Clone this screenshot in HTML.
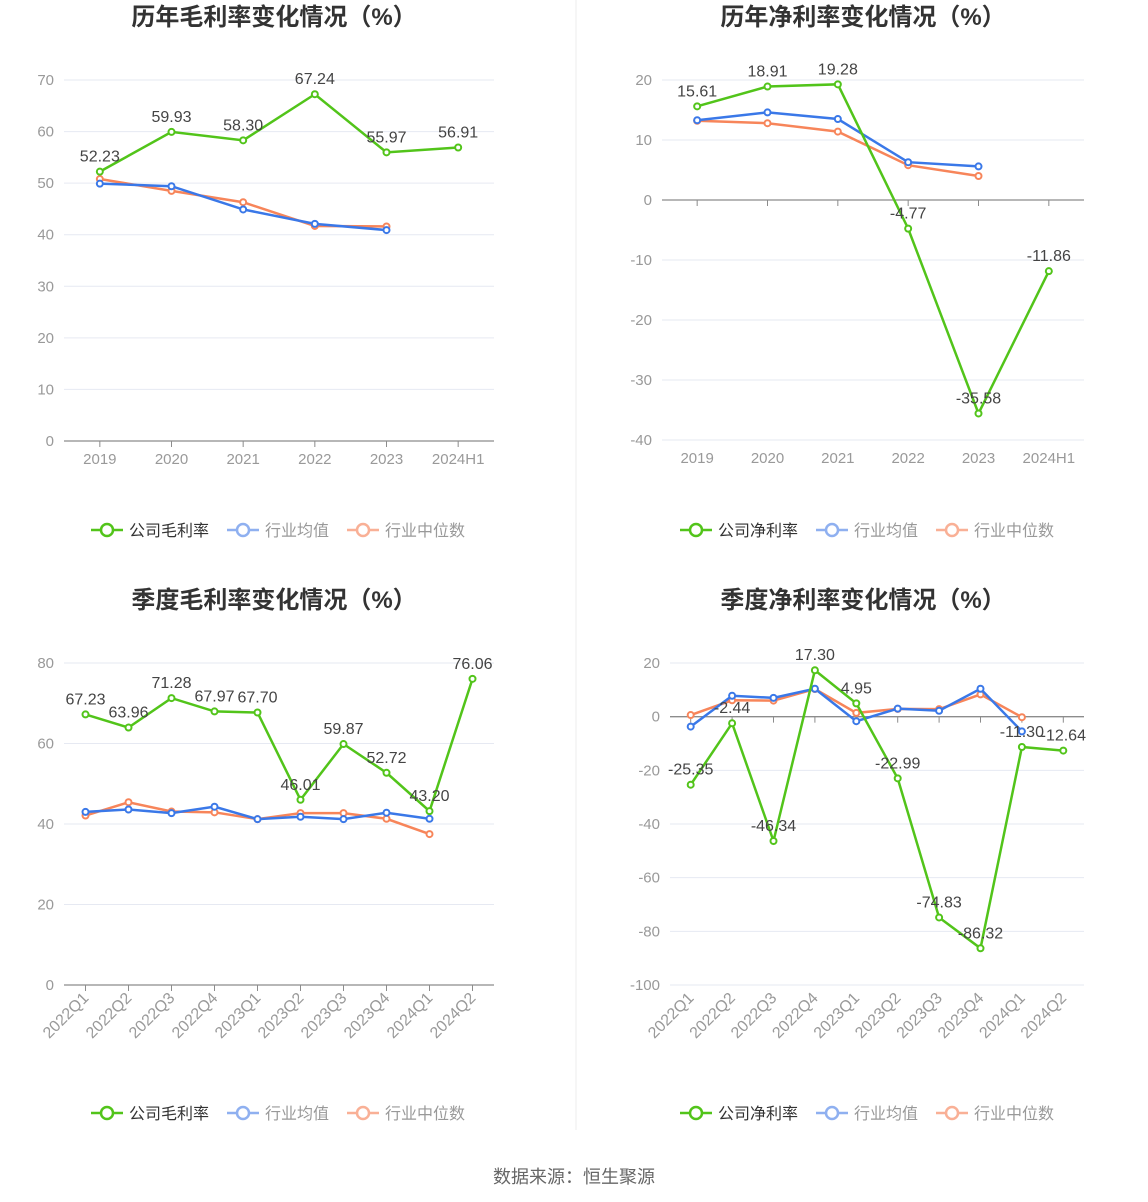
<!DOCTYPE html>
<html><head><meta charset="utf-8">
<style>
body{margin:0;background:#fff;font-family:"Liberation Sans","Noto Sans CJK SC",sans-serif;}
#wrap{position:relative;width:1148px;height:1202px;}
svg{position:absolute;left:0;top:0;}
</style></head>
<body><div id="wrap">
<svg id="s" width="1148" height="1202"></svg>
</div>
<script>
const yearCats=["2019","2020","2021","2022","2023","2024H1"];
const quarterCats=["2022Q1","2022Q2","2022Q3","2022Q4","2023Q1","2023Q2","2023Q3","2023Q4","2024Q1","2024Q2"];
const grossCompany=[52.23,59.93,58.30,67.24,55.97,56.91];
const grossAvg=[49.9,49.4,44.9,42.1,40.9];
const grossMedian=[50.8,48.5,46.3,41.7,41.6];
const netCompany=[15.61,18.91,19.28,-4.77,-35.58,-11.86];
const netAvg=[13.3,14.6,13.5,6.3,5.6];
const netMedian=[13.2,12.8,11.4,5.8,4.0];
const qGrossCompany=[67.23,63.96,71.28,67.97,67.70,46.01,59.87,52.72,43.20,76.06];
const qGrossAvg=[43.0,43.6,42.7,44.3,41.2,41.8,41.2,42.8,41.3];
const qGrossMedian=[42.1,45.4,43.1,42.9,41.2,42.7,42.7,41.3,37.5];
const qNetCompany=[-25.35,-2.44,-46.34,17.30,4.95,-22.99,-74.83,-86.32,-11.30,-12.64];
const qNetAvg=[-3.7,7.8,7.0,10.4,-1.7,3.0,2.2,10.4,-5.5];
const qNetMedian=[0.6,6.1,6.0,10.3,1.4,2.9,2.8,8.3,-0.2];
const ticks1=[0,10,20,30,40,50,60,70];
const ticks2=[-40,-30,-20,-10,0,10,20];
const ticks3=[0,20,40,60,80];
const ticks4=[-100,-80,-60,-40,-20,0,20];

const NS="http://www.w3.org/2000/svg";
const svg=document.getElementById('s');
function mk(tag,attrs,parent,text){const e=document.createElementNS(NS,tag);for(const k in attrs)e.setAttribute(k,attrs[k]);if(text!==undefined)e.textContent=text;(parent||svg).appendChild(e);return e;}
const GREEN="#52c41a",BLUE="#3a78e8",ORANGE="#f7855a";

function chart(o){
  const g=mk('g',{});
  
  
  const n=o.cats.length, bw=(o.x1-o.x0)/n;
  const xs=i=>o.x0+bw*(i+0.5);
  const ymin=o.ticks[0],ymax=o.ticks[o.ticks.length-1];
  const ys=v=>o.yb-(v-ymin)/(ymax-ymin)*(o.yb-o.yt);
  const t=mk('text',{x:o.cx,y:o.ty,'text-anchor':'middle','font-size':24,'font-weight':'bold',fill:'#333'},g,o.title);
  
  o.ticks.forEach(v=>{
    const y=ys(v);
    const l=mk('line',{x1:o.x0,x2:o.x1,y1:y,y2:y,stroke:'#e6e9f2','stroke-width':1},g);
    
    const tl=mk('text',{x:o.x0-10,y:y+5,'text-anchor':'end','font-size':15,fill:'#999'},g,String(v));
    
  });
  const ay=ys(0);
  const ax=mk('line',{x1:o.x0,x2:o.x1,y1:ay,y2:ay,stroke:'#8c8c8c','stroke-width':1.3},g);
  
  o.cats.forEach((c,i)=>{
    const x=xs(i);
    mk('line',{x1:x,x2:x,y1:ay,y2:ay+6,stroke:'#8c8c8c'},g);
    let lab;
    if(o.rot) lab=mk('text',{x:x+4,y:o.yb+14,'text-anchor':'end','font-size':16,fill:'#999',transform:`rotate(-45 ${x+4} ${o.yb+14})`},g,c);
    else lab=mk('text',{x:x,y:o.yb+23,'text-anchor':'middle','font-size':15,fill:'#999'},g,c);
    
  });
  const series=[[o.med,ORANGE,'median-line'],[o.avg,BLUE,'average-line'],[o.comp,GREEN,'company-line']];
  series.forEach(([d,col,nm])=>{
    const pts=d.map((v,i)=>xs(i)+','+ys(v)).join(' ');
    const pl=mk('polyline',{points:pts,fill:'none',stroke:col,'stroke-width':2.5},g);
    
    d.forEach((v,i)=>{
      const c=mk('circle',{cx:xs(i),cy:ys(v),r:3,fill:'#fff',stroke:col,'stroke-width':2},g);
      
    });
  });
  o.comp.forEach((v,i)=>{
    const tx=mk('text',{x:xs(i),y:ys(v)-10,'text-anchor':'middle','font-size':16,fill:'#444'},g,v.toFixed(2));
    
  });
  const ly=o.ly, lx=o.cx-183;
  const items=[[o.compName,GREEN,'#333'],['行业均值','#8fb0f0','#999'],['行业中位数','#f9b096','#999']];
  let x=lx;
  items.forEach(([nm,col,tc],k)=>{
    const lg=mk('g',{},g);
    
    mk('line',{x1:x,x2:x+32,y1:ly,y2:ly,stroke:col,'stroke-width':2.5},lg);
    mk('circle',{cx:x+16,cy:ly,r:6,fill:'#fff',stroke:col,'stroke-width':2.5},lg);
    mk('text',{x:x+38,y:ly+6,'font-size':16,fill:tc},lg,nm);
    x+= k===0?136:120;
  });
}
chart({name:'annual-gross-margin-chart',title:'历年毛利率变化情况（%）',cx:274,ty:25,x0:64,x1:494,yt:80,yb:441,ticks:ticks1,cats:yearCats,comp:grossCompany,avg:grossAvg,med:grossMedian,compName:'公司毛利率',ly:530});
chart({name:'annual-net-margin-chart',title:'历年净利率变化情况（%）',cx:863,ty:25,x0:662,x1:1084,yt:80,yb:440,ticks:ticks2,cats:yearCats,comp:netCompany,avg:netAvg,med:netMedian,compName:'公司净利率',ly:530});
chart({name:'quarterly-gross-margin-chart',title:'季度毛利率变化情况（%）',cx:274,ty:608,x0:64,x1:494,yt:663,yb:985,ticks:ticks3,cats:quarterCats,comp:qGrossCompany,avg:qGrossAvg,med:qGrossMedian,compName:'公司毛利率',ly:1113,rot:true});
chart({name:'quarterly-net-margin-chart',title:'季度净利率变化情况（%）',cx:863,ty:608,x0:670,x1:1084,yt:663,yb:985,ticks:ticks4,cats:quarterCats,comp:qNetCompany,avg:qNetAvg,med:qNetMedian,compName:'公司净利率',ly:1113,rot:true});
const dv=mk('line',{x1:576,x2:576,y1:0,y2:1130,stroke:'#eeeeee'});

const f=mk('text',{x:574,y:1183,'text-anchor':'middle','font-size':18,fill:'#666'},svg,'数据来源：恒生聚源');

</script>
</body></html>
